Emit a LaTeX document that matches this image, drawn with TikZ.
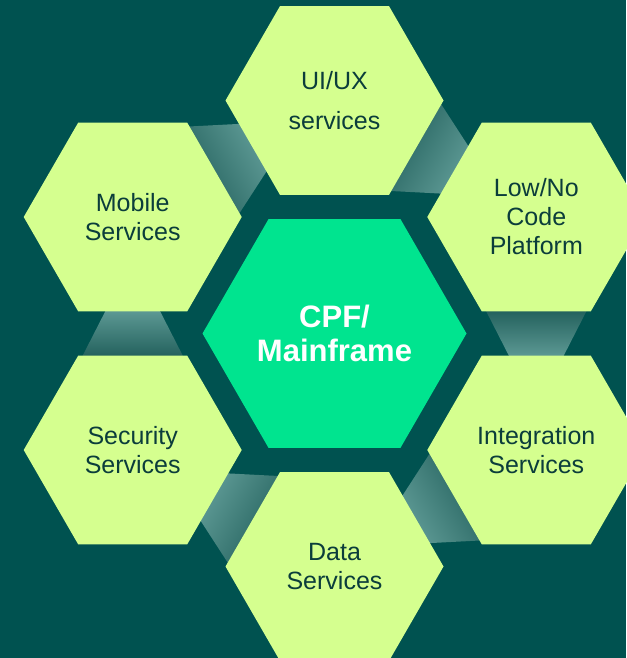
\documentclass[tikz,border=0pt]{standalone}
\usepackage{fontspec}
\setmainfont{Liberation Sans}
\usetikzlibrary{shapes.geometric,calc}
\definecolor{bgteal}{HTML}{005250}
\definecolor{hexlime}{HTML}{D5FF8F}
\definecolor{hexmint}{HTML}{00E48F}
\definecolor{txtdark}{HTML}{0B3D3B}
\definecolor{gapdark}{HTML}{22605C}
\definecolor{gaplight}{HTML}{5E9A95}
\pgfdeclarelayer{gap}
\pgfsetlayers{gap,main}

\begin{document}
\begin{tikzpicture}[x=1pt,y=1pt,
	hexa/.style={regular polygon,regular polygon sides=6,inner sep=0pt,outer sep=0pt,align=center},
	outerhex/.style={hexa,minimum size=218pt,fill=hexlime,text=txtdark,font=\fontsize{25}{29}\selectfont},
	corehex/.style={hexa,minimum size=264pt,fill=hexmint,text=white,font=\fontsize{31}{34}\selectfont\bfseries}]
		\def\d{233pt}
		\useasboundingbox (0,0) rectangle (626,658);
		\node[corehex] (cpf) at (334.5,324.5) {CPF/\\Mainframe};
		\node[outerhex] (ui) at ($(cpf)+(90:\d)$) {UI/UX\\[11pt]services};
		\node[outerhex] (low) at ($(cpf)+(30:\d)$) {Low/No\\Code\\Platform};
		\node[outerhex] (int) at ($(cpf)+(-30:\d)$) {Integration\\Services};
		\node[outerhex] (data) at ($(cpf)+(-90:\d)$) {Data\\Services};
		\node[outerhex] (sec) at ($(cpf)+(210:\d)$) {Security\\Services};
		\node[outerhex] (mob) at ($(cpf)+(150:\d)$) {Mobile\\Services};
		\begin{pgfonlayer}{gap}
			\fill[bgteal] (0,0) rectangle (626,658);
			\foreach \a/\b/\sa in {ui/low/-120,low/int/180,int/data/120,data/sec/60,sec/mob/0,mob/ui/-60}
			\shade[top color=gaplight,bottom color=gapdark,shading angle=\sa]
			($(\a)!.397!(\b)!51pt!90:(\b)$) -- ($(\a)!.397!(\b)!51pt!-90:(\b)$)
			-- ($(\a)!.603!(\b)!26.5pt!-90:(\b)$) -- ($(\a)!.603!(\b)!26.5pt!90:(\b)$) -- cycle;
		\end{pgfonlayer}
	\end{tikzpicture}
\end{document}
